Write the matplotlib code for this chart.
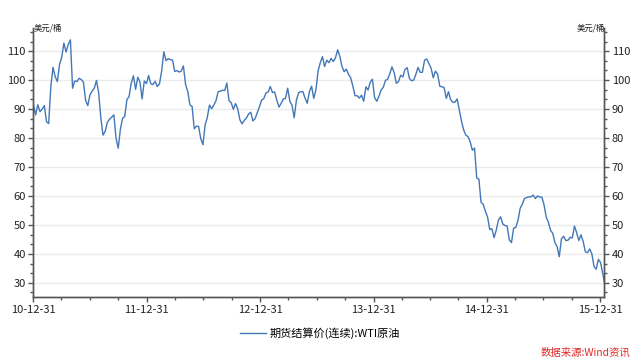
import pandas as pd
import matplotlib
matplotlib.use("Agg")
import matplotlib.pyplot as plt
import matplotlib.dates as mdates
from matplotlib.ticker import MultipleLocator

plt.rcParams['font.family'] = ['Noto Sans CJK SC', 'DejaVu Sans']

# WTI continuous settlement, USD/bbl, weekly (Fridays)
wti_2010 = [91.4]
wti_2011 = [88.0, 91.5, 89.1, 90.0, 91.2, 85.6, 85.0, 97.9,
            104.4, 101.2, 99.5, 105.4,
            107.9, 112.8, 109.7, 112.3, 113.9,
            97.2, 99.7, 99.5, 100.6,
            100.2, 99.3, 93.0, 91.2,
            94.9, 96.2, 97.2, 99.9, 95.7,
            86.9, 81.0, 82.3, 85.4,
            86.5, 87.2, 88.0, 79.9, 76.5,
            83.0, 86.8, 87.4, 93.3,
            94.3, 99.0, 101.5, 96.8,
            101.0, 99.4, 93.5, 99.7, 98.8]
wti_2012 = [101.6, 98.7, 98.5, 99.6,
            97.8, 98.7, 103.2, 109.8,
            106.7, 107.4, 107.1, 106.9, 103.0,
            103.3, 102.8, 103.1, 104.9,
            98.5, 96.1, 91.5, 90.9,
            83.2, 84.1, 84.0, 79.8, 77.7,
            84.5, 87.1, 91.4, 90.1,
            91.4, 92.9, 96.0, 96.2, 96.5,
            96.4, 99.0, 92.9, 92.2,
            89.9, 91.9, 90.1, 86.3,
            84.9, 86.1, 86.9, 88.3, 88.9,
            85.9, 86.7, 88.7, 90.8]
wti_2013 = [93.1, 93.6, 95.6, 95.9,
            97.8, 95.7, 95.9, 93.1,
            90.7, 92.0, 93.5, 93.7, 97.2,
            92.7, 91.3, 87.0, 93.0,
            95.6, 96.0, 96.0, 93.8, 92.0,
            96.0, 97.9, 93.7, 96.6,
            103.2, 106.0, 108.1, 104.7,
            106.9, 106.0, 107.5, 106.4, 107.7,
            110.5, 108.2, 104.7, 102.9,
            103.8, 102.0, 100.8, 97.9,
            94.6, 94.6, 93.8, 94.8, 92.7,
            97.7, 96.6, 99.3, 100.3]
wti_2014 = [94.0, 92.7, 94.4, 96.6, 97.5,
            99.9, 100.3, 102.2, 104.6,
            102.6, 98.9, 99.5, 101.7,
            101.1, 103.7, 104.3, 100.6,
            99.8, 100.0, 102.0, 104.4, 102.7,
            102.7, 106.9, 107.3, 105.7,
            104.1, 100.8, 103.1, 102.1,
            97.9, 97.7, 97.4, 93.7, 96.0,
            93.3, 92.3, 92.4, 93.5,
            89.7, 85.8, 82.8, 81.0, 80.5,
            78.7, 75.8, 76.5, 66.2,
            65.8, 57.8, 57.1, 54.7]
wti_2015 = [52.7, 48.4, 48.7, 45.6, 48.2,
            51.7, 52.8, 50.3, 49.8,
            49.6, 44.8, 43.9, 48.9,
            49.1, 51.6, 55.7, 57.2,
            59.2, 59.4, 59.7, 59.7, 60.3,
            59.1, 60.0, 59.6, 59.6,
            56.9, 52.7, 50.9, 48.1, 47.1,
            43.9, 42.5, 39.0, 45.2,
            46.1, 44.6, 44.7, 45.7,
            45.5, 49.6, 47.3, 44.6, 46.6,
            44.3, 40.7, 40.4, 41.7,
            40.0, 35.6, 34.7, 38.1]
wti_2016 = [37.0, 33.2, 29.4]

prices = wti_2010 + wti_2011 + wti_2012 + wti_2013 + wti_2014 + wti_2015 + wti_2016
dates = pd.date_range('2010-12-31', periods=len(prices), freq='7D')

year_ends = pd.date_range('2010-12-31', '2015-12-31', freq='YE')
quarter_ends = pd.date_range('2010-12-31', '2015-12-31', freq='QE')

axis_col = '#555555'
line_col = '#4277b8'

fig = plt.figure(figsize=(6.4, 3.59), dpi=100)
ax = fig.add_axes([0.0523, 0.1735, 0.8914, 0.7485])
line, = ax.plot(dates, prices, color=line_col, lw=1.0)

ax.set_xlim(pd.Timestamp('2010-12-31'), pd.Timestamp('2016-01-12'))
ax.set_ylim(25.2, 118)
ax.yaxis.set_major_locator(MultipleLocator(10))
ax.yaxis.set_minor_locator(MultipleLocator(10 / 3))
ax.set_xticks(year_ends)
ax.set_xticks(quarter_ends, minor=True)
ax.xaxis.set_major_formatter(mdates.DateFormatter('%y-%m-%d'))
ax.grid(axis='y', which='major', color='#ebebeb', lw=1.0)
ax.set_axisbelow(True)

ax2 = ax.twinx()
ax2.set_ylim(ax.get_ylim())
ax2.yaxis.set_major_locator(MultipleLocator(10))
ax2.yaxis.set_minor_locator(MultipleLocator(10 / 3))

for a in (ax, ax2):
    a.spines['top'].set_visible(False)
    for s in ('left', 'right', 'bottom'):
        a.spines[s].set_color(axis_col)
        a.spines[s].set_linewidth(1.0)
    a.tick_params(which='major', direction='out', length=3.5, width=1,
                  color=axis_col, labelsize=8, labelcolor='#222222', pad=2)
    a.tick_params(which='minor', direction='out', length=2.5, width=1,
                  color=axis_col)
ax.tick_params(axis='x', labelsize=8, pad=2.5)

fig.text(34 / 640, 1 - 28 / 359, '美元/桶', fontsize=6, color='#222222',
         ha='left', va='center')
fig.text(605 / 640, 1 - 28 / 359, '美元/桶', fontsize=6, color='#222222',
         ha='right', va='center')

fig.legend([line], ['期货结算价(连续):WTI原油'], loc='center',
           bbox_to_anchor=(0.5, 1 - 333 / 359), frameon=False, fontsize=8,
           handlelength=2.3, handletextpad=0.3)

fig.text(630 / 640, 1 - 353 / 359, '数据来源:Wind资讯', fontsize=7.5,
         color='#e02828', ha='right', va='center')

fig.savefig('out.png', dpi=100)
